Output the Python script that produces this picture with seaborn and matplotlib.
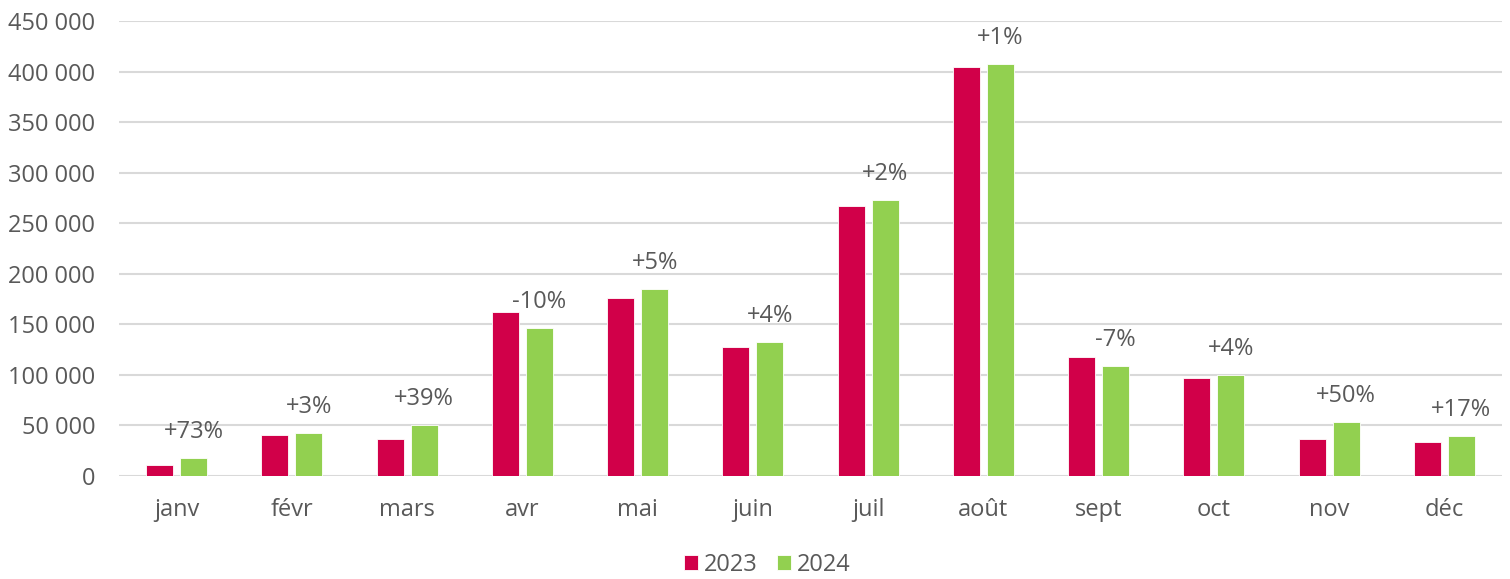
import pandas as pd
import matplotlib.pyplot as plt
import seaborn as sns
from matplotlib.ticker import FuncFormatter

# Data
months = ["janv", "févr", "mars", "avr", "mai", "juin",
          "juil", "août", "sept", "oct", "nov", "déc"]
values_2023 = [10900, 40500, 36300, 162500, 176300, 127300,
               267300, 404200, 117400, 97200, 36600, 33600]
values_2024 = [18100, 42200, 50700, 146600, 184900, 132800,
               272700, 407500, 108500, 100200, 53400, 39600]
change_labels = ["+73%", "+3%", "+39%", "-10%", "+5%", "+4%",
                 "+2%", "+1%", "-7%", "+4%", "+50%", "+17%"]

df = pd.DataFrame({
    "mois": months * 2,
    "valeur": values_2023 + values_2024,
    "annee": ["2023"] * 12 + ["2024"] * 12,
})

sns.set_theme(style="white")
plt.rcParams["font.family"] = ["Open Sans", "DejaVu Sans"]
grey = "#595959"

fig = plt.figure(figsize=(15.1, 5.79), dpi=100)
ax = fig.add_axes([0.0788, 0.1779, 0.9159, 0.7858])

sns.barplot(data=df, x="mois", y="valeur", hue="annee",
            palette={"2023": "#D10049", "2024": "#92D050"},
            saturation=1, width=0.59, gap=0.2,
            edgecolor="white", linewidth=0.6, ax=ax)

ax.set_ylim(0, 450000)
ax.set_xlim(-0.5, 11.5)
ax.set_yticks(range(0, 450001, 50000))
ax.yaxis.set_major_formatter(FuncFormatter(lambda v, p: f"{int(v):,}".replace(",", " ")))
ax.grid(axis="y", color="#D9D9D9", linewidth=1.5)
ax.set_axisbelow(True)
for s in ax.spines.values():
    s.set_visible(False)
ax.set_xlabel("")
ax.set_ylabel("")
ax.tick_params(axis="y", length=0, pad=17, labelsize=17, labelcolor=grey)
ax.tick_params(axis="x", length=0, pad=16, labelsize=17, labelcolor=grey)

# percentage labels above the 2024 bars
for bar, txt in zip(ax.containers[1], change_labels):
    ax.annotate(txt, (bar.get_x() + bar.get_width() / 2, bar.get_height()),
                xytext=(0, 10), textcoords="offset points",
                ha="center", va="bottom", fontsize=17, color=grey)

sns.move_legend(ax, "center", bbox_to_anchor=(0.4686, -0.196), ncol=2,
                frameon=False, title=None, fontsize=17,
                handlelength=0.6, handleheight=0.6,
                handletextpad=0.25, columnspacing=0.8)
for t in ax.get_legend().get_texts():
    t.set_color(grey)

plt.savefig("out.png", dpi=100)
